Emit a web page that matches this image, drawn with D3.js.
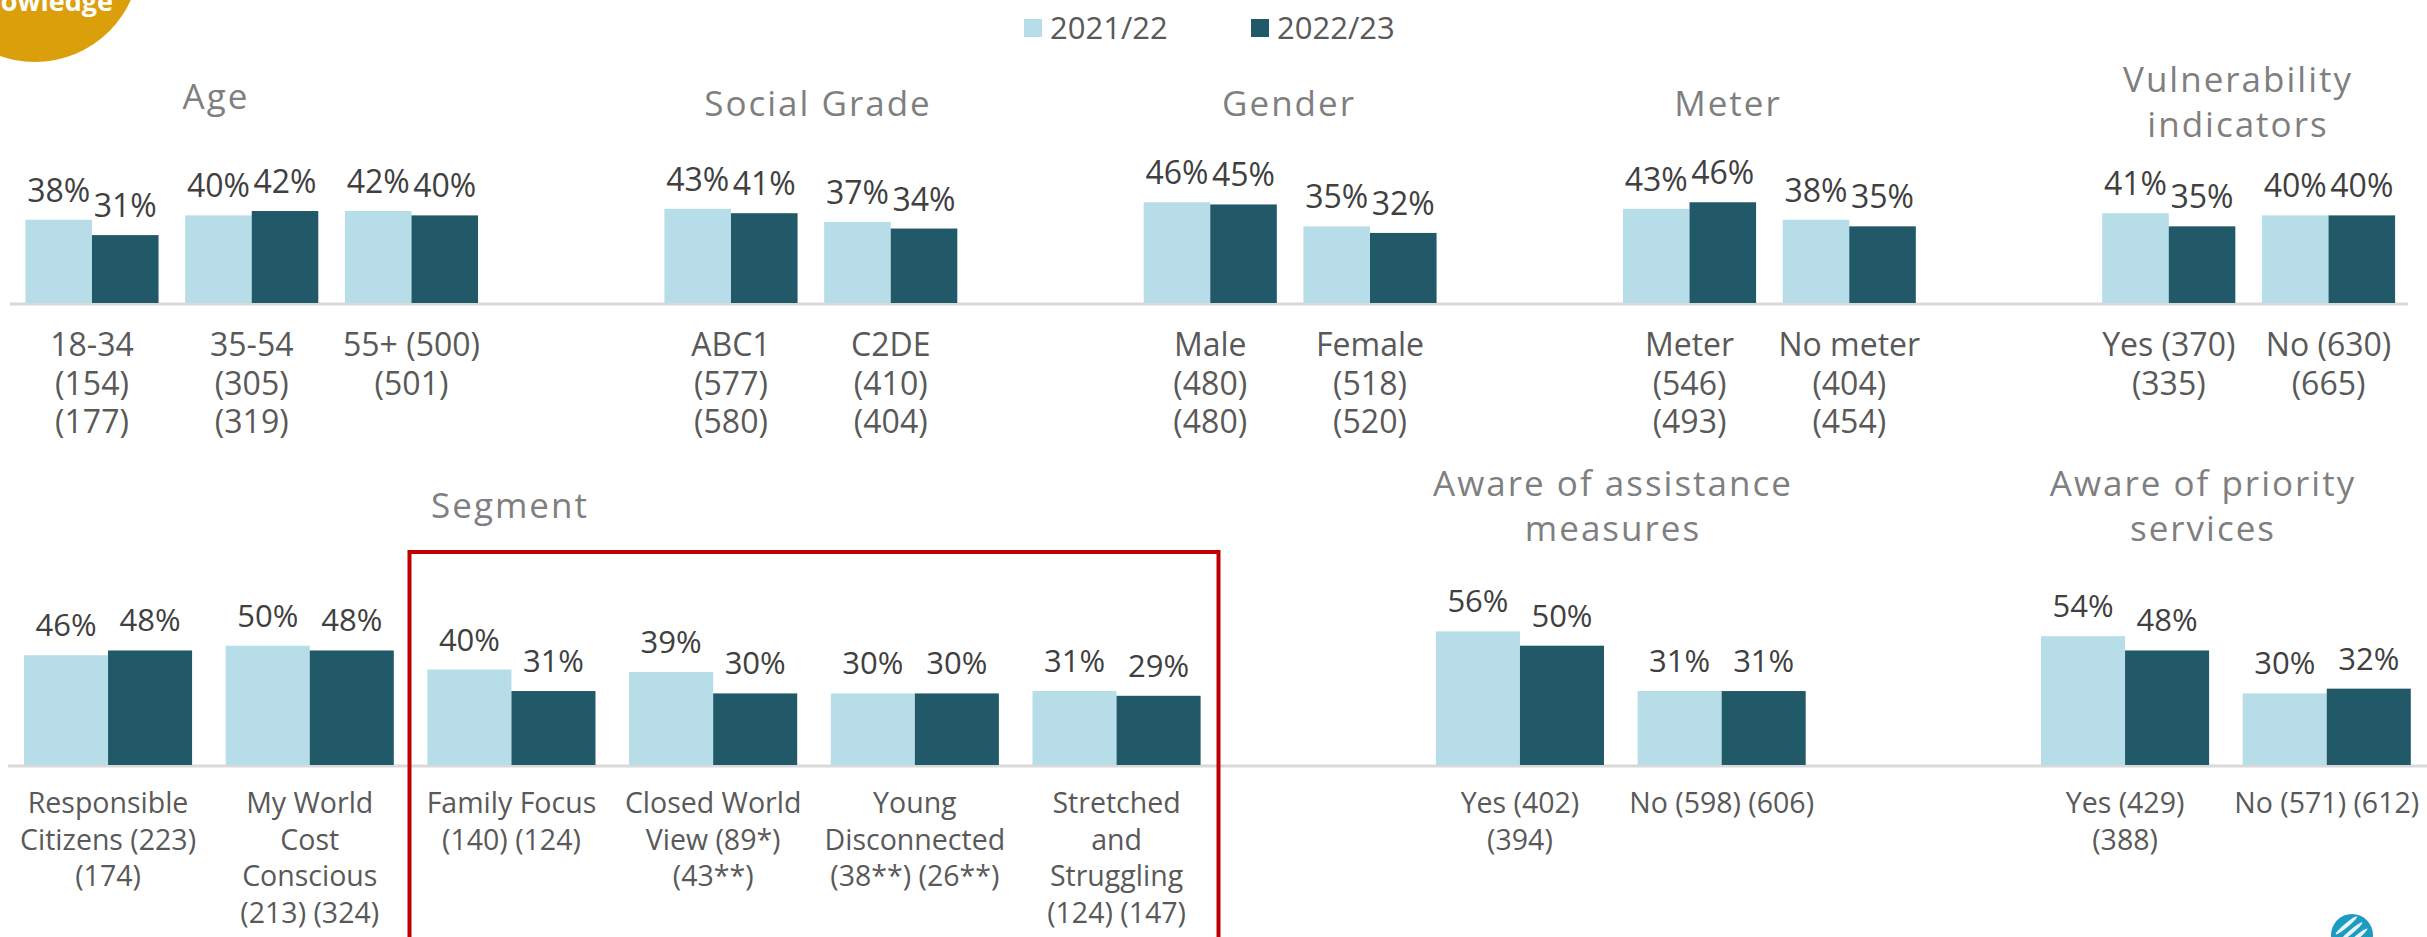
<!DOCTYPE html>
<html>
<head>
<meta charset="utf-8">
<script src="https://cdn.jsdelivr.net/npm/d3@7/dist/d3.min.js"></script>
<style>
  html, body { margin: 0; padding: 0; background: #ffffff; }
  svg { display: block; }
  text { font-family: "Open Sans", "Liberation Sans", sans-serif; }
</style>
</head>
<body>
<svg id="chart" width="2427" height="937"></svg>
<script>
// ---- Data -------------------------------------------------------------
const seriesNames = ["2021/22", "2022/23"];

// Upper row: demographic breakdowns (null = spacer between panels)
const upperLabels = [
  ["18-34", "(154)", "(177)"],
  ["35-54", "(305)", "(319)"],
  ["55+ (500)", "(501)"],
  null,
  ["ABC1", "(577)", "(580)"],
  ["C2DE", "(410)", "(404)"],
  null,
  ["Male", "(480)", "(480)"],
  ["Female", "(518)", "(520)"],
  null,
  ["Meter", "(546)", "(493)"],
  ["No meter", "(404)", "(454)"],
  null,
  ["Yes (370)", "(335)"],
  ["No (630)", "(665)"]
];
const upper2122 = [38, 40, 42, null, 43, 37, null, 46, 35, null, 43, 38, null, 41, 40];
const upper2223 = [31, 42, 40, null, 41, 34, null, 45, 32, null, 46, 35, null, 35, 40];
const upperTitles = [["Age"], ["Social Grade"], ["Gender"], ["Meter"], ["Vulnerability", "indicators"]];

// Lower row: segments and awareness
const lowerLabels = [
  ["Responsible", "Citizens (223)", "(174)"],
  ["My World", "Cost", "Conscious", "(213) (324)"],
  ["Family Focus", "(140) (124)"],
  ["Closed World", "View (89*)", "(43**)"],
  ["Young", "Disconnected", "(38**) (26**)"],
  ["Stretched", "and", "Struggling", "(124) (147)"],
  null,
  ["Yes (402)", "(394)"],
  ["No (598) (606)"],
  null,
  ["Yes (429)", "(388)"],
  ["No (571) (612)"]
];
const lower2122 = [46, 50, 40, 39, 30, 31, null, 56, 31, null, 54, 30];
const lower2223 = [48, 48, 31, 30, 30, 29, null, 50, 31, null, 48, 32];
const lowerTitles = [["Segment"], ["Aware of assistance", "measures"], ["Aware of priority", "services"]];

// ---- Styling / layout --------------------------------------------------
const colors = ["#B7DDE8", "#215968"];
const valueColor = "#404040";
const labelColor = "#595959";
const titleColor = "#7F7F7F";
const axisColor = "#D9D9D9";

const svg = d3.select("#chart");

// Brand badge in the upper-left corner
const badge = svg.append("g");
badge.append("circle").attr("cx", 35).attr("cy", -43).attr("r", 105).attr("fill", "#DB9F0C");
badge.append("text")
  .attr("x", 113).attr("y", 11)
  .attr("text-anchor", "end")
  .attr("fill", "#ffffff")
  .attr("font-weight", 700)
  .attr("font-size", 27)
  .text("Knowledge");

// Legend
const legendPos = [{x: 1024, tx: 1050}, {x: 1251, tx: 1277}];
seriesNames.forEach((name, i) => {
  svg.append("rect")
    .attr("x", legendPos[i].x).attr("y", 19)
    .attr("width", 18).attr("height", 18)
    .attr("fill", colors[i]);
  svg.append("text")
    .attr("x", legendPos[i].tx).attr("y", 39)
    .attr("font-size", 31)
    .attr("fill", labelColor)
    .text(name);
});

function drawRow(cfg) {
  const idx = d3.range(cfg.labels.length);
  const x = d3.scaleBand().domain(idx).range(cfg.xRange).paddingInner(0).paddingOuter(0);
  const inner = d3.scaleBand().domain([0, 1]).range([0, x.bandwidth()]).paddingInner(0).paddingOuter(0.2);
  // x-range of inner scale: outer padding 0.2 step on both sides -> 40% gap between groups
  const y = d3.scaleLinear().domain([0, 100]).range([cfg.baseline, cfg.baseline - cfg.pxPerPct * 100]);

  const g = svg.append("g");

  // axis baseline
  const axis = d3.axisBottom(x).tickSize(0).tickFormat("");
  g.append("g")
    .attr("transform", `translate(0,${cfg.baseline + 1})`)
    .call(axis)
    .call(s => s.select(".domain").attr("stroke", axisColor).attr("stroke-width", 3)
      .attr("d", `M${cfg.axisRange[0]},0H${cfg.axisRange[1]}`));

  const series = [cfg.a, cfg.b];
  series.forEach((vals, si) => {
    const pts = idx.filter(i => vals[i] != null);
    g.append("g").selectAll("rect").data(pts).join("rect")
      .attr("x", i => x(i) + inner(si))
      .attr("y", i => y(vals[i]))
      .attr("width", inner.bandwidth())
      .attr("height", i => y(0) - y(vals[i]))
      .attr("fill", colors[si]);
    g.append("g").selectAll("text").data(pts).join("text")
      .attr("x", i => x(i) + inner(si) + inner.bandwidth() / 2)
      .attr("y", i => y(vals[i]) - cfg.valueGap)
      .attr("text-anchor", "middle")
      .attr("font-size", cfg.valueSize)
      .attr("fill", valueColor)
      .text(i => vals[i] + "%");
  });

  // category labels
  const lab = g.append("g").selectAll("text").data(idx.filter(i => cfg.labels[i])).join("text")
    .attr("text-anchor", "middle")
    .attr("font-size", cfg.labelSize)
    .attr("fill", labelColor);
  lab.each(function(i) {
    const t = d3.select(this);
    cfg.labels[i].forEach((line, li) => {
      t.append("tspan")
        .attr("x", x(i) + x.bandwidth() / 2)
        .attr("y", cfg.baseline + cfg.labelOffset + li * cfg.labelLine)
        .text(line);
    });
  });

  // panel titles
  cfg.titles.forEach((lines, ti) => {
    const pos = cfg.titlePos[ti];
    const t = g.append("text")
      .attr("text-anchor", "middle")
      .attr("font-size", 35)
      .attr("letter-spacing", 2)
      .attr("fill", titleColor);
    lines.forEach((line, li) => {
      t.append("tspan").attr("x", pos.x).attr("y", pos.y + li * 45).text(line);
    });
  });
  return x;
}

drawRow({
  labels: upperLabels, a: upper2122, b: upper2223, titles: upperTitles,
  xRange: [12.1, 2408.4], axisRange: [10, 2408], baseline: 303, pxPerPct: 2.19,
  valueGap: 18, valueSize: 32, labelSize: 32, labelOffset: 53, labelLine: 38.5,
  titlePos: [{x: 216, y: 109}, {x: 818, y: 116}, {x: 1289, y: 116}, {x: 1728, y: 116}, {x: 2238, y: 92}]
});

drawRow({
  labels: lowerLabels, a: lower2122, b: lower2223, titles: lowerTitles,
  xRange: [7.2, 2427.6], axisRange: [8, 2427], baseline: 765, pxPerPct: 2.386,
  valueGap: 19, valueSize: 31, labelSize: 28.5, labelOffset: 48, labelLine: 36.7,
  titlePos: [{x: 510, y: 518}, {x: 1613, y: 496}, {x: 2203, y: 496}]
});

// Highlight frame around the four focus segments
svg.append("rect")
  .attr("x", 409.5).attr("y", 552)
  .attr("width", 1218.5 - 409.5).attr("height", 420)
  .attr("fill", "none")
  .attr("stroke", "#C00000")
  .attr("stroke-width", 4);

// Small globe mark in the lower-right corner
const globe = svg.append("g");
const defs = svg.append("defs");
defs.append("clipPath").attr("id", "globe-clip")
  .append("circle").attr("cx", 2352).attr("cy", 935).attr("r", 21);
globe.append("circle").attr("cx", 2352).attr("cy", 935).attr("r", 21).attr("fill", "#1C9CC2");
const stripes = globe.append("g").attr("clip-path", "url(#globe-clip)")
  .attr("transform", "rotate(-40 2352 935)");
[-11, -3, 5].forEach(dy => {
  stripes.append("ellipse")
    .attr("cx", 2354).attr("cy", 935 + dy)
    .attr("rx", 14).attr("ry", 2)
    .attr("fill", "#ffffff").attr("opacity", 0.9);
});
</script>
</body>
</html>
